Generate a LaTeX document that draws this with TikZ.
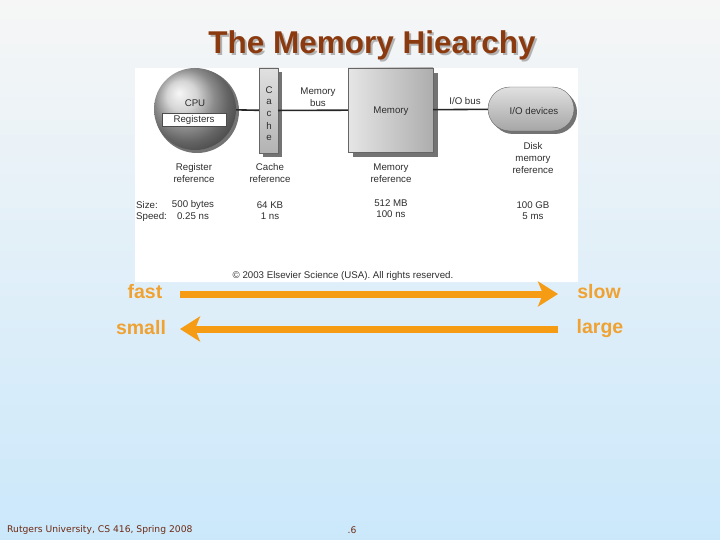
\documentclass[tikz,border=0pt]{standalone}
\usepackage{fontspec}
\setmainfont{Liberation Sans}
\newfontfamily\footfont{DejaVu Sans}
\usetikzlibrary{shapes.misc}
\usetikzlibrary{arrows.meta}
\definecolor{titlebrown}{HTML}{8B3A0F}
\definecolor{arroworange}{HTML}{F59B14}
\definecolor{labelorange}{HTML}{EFA232}
\definecolor{bgtop}{HTML}{F6F6F6}
\definecolor{bgbottom}{HTML}{CBE8FB}
\definecolor{figtext}{HTML}{2E2E2E}
\definecolor{footbrown}{HTML}{6E2A12}

\begin{document}
\begin{tikzpicture}[x=1pt,y=-1pt]
\tikzset{every node/.style={inner sep=0pt}}
\tikzset{figtext/.style={text=figtext,font=\fontsize{9.7}{12}\selectfont,align=center}}
\tikzset{bus/.style={line width=1.6pt,black!85}}
\tikzset{hier/.style={line width=7pt,arroworange,-{Stealth[length=20pt,width=25pt,inset=5pt]}}}
\tikzset{hiertext/.style={text=labelorange,font=\fontsize{19.5}{22}\selectfont\bfseries}}
\tikzset{boxshadow/.style={fill=black!55,draw=none}}
\useasboundingbox (0,0) rectangle (720,540);
\shade[top color=bgtop,bottom color=bgbottom] (0,0) rectangle (720,540);

% title
\node (title) at (372,46) [text=titlebrown,font=\fontsize{31.5}{34}\selectfont\bfseries]
  {\rlap{\hspace{2pt}\raisebox{-2pt}{\color{black!30}The Memory Hiearchy}}The Memory Hiearchy};

% figure panel
\fill[white] (135,68) rectangle (578,282);
\fill[boxshadow] (197,111) circle (42);
\shade[ball color=black!22] (195,109) circle (41);
\node (cpu) at (195,109) [circle,minimum size=82pt] {};
\node (cputext) at (195,103) [figtext] {CPU};
\node (registers) at (194,119.5) [figtext,draw=black!70,fill=white,minimum width=64pt,minimum height=13pt] {Registers};
\fill[boxshadow] (263,72) rectangle (282,157);
\node (cache) at (268.5,110.5) [draw=black!60,top color=black!12,bottom color=black!30,minimum width=19pt,minimum height=85pt] {};
\foreach \l [count=\i] in {C,a,c,h,e}
  \node (cache\i) at (269,78+12*\i) [figtext] {\l};
\fill[boxshadow] (353,73) rectangle (438,157);
\node (memory) at (390.5,110) [draw=black!60,left color=black!10,right color=black!32,minimum width=85pt,minimum height=84pt] {};
\node (memorytext) at (391,111) [figtext] {Memory};
\node (ioshadow) at (534,112) [rounded rectangle,fill=black!55,minimum width=86pt,minimum height=44pt] {};
\node (io) at (531,109) [rounded rectangle,draw=black!60,top color=black!12,bottom color=black!35,minimum width=86pt,minimum height=44pt] {};
\node (iotext) at (534,111) [figtext] {I/O devices};

\path
(cpu) edge [bus] (cache)
(cache) edge [bus] (memory)
(memory) edge [bus] (io);

\node (membus) at (318,97.5) [figtext] {Memory\\bus};
\node (iobus) at (465,101) [figtext] {I/O bus};

\node (regref) at (194,173.5) [figtext] {Register\\reference};
\node (cacheref) at (270,173.5) [figtext] {Cache\\reference};
\node (memref) at (391,173.5) [figtext] {Memory\\reference};
\node (diskref) at (533,158) [figtext] {Disk\\memory\\reference};

\node (sizelab) at (136,205) [figtext,anchor=west] {Size:};
\node (speedlab) at (136,216.5) [figtext,anchor=west] {Speed:};
\node (regsize) at (193,205) [figtext] {500 bytes};
\node (regspeed) at (193,216.5) [figtext] {0.25 ns};
\node (cachesize) at (270,205) [figtext] {64 KB};
\node (cachespeed) at (270,216.5) [figtext] {1 ns};
\node (memsize) at (391,203) [figtext] {512 MB};
\node (memspeed) at (391,214.5) [figtext] {100 ns};
\node (disksize) at (533,205) [figtext] {100 GB};
\node (diskspeed) at (533,216.5) [figtext] {5 ms};
\node (copyright) at (343,276) [figtext,font=\fontsize{9.7}{11}\selectfont] {\textcopyright\ 2003 Elsevier Science (USA). All rights reserved.};

% speed and size arrows
\node (fast) at (145,292) [hiertext] {fast};
\node (slow) at (599,292) [hiertext] {slow};
\node (small) at (141,327.5) [hiertext] {small};
\node (large) at (600,328) [hiertext] {large};
\coordinate (fastend) at (180,294);
\coordinate (slowend) at (558,294);
\coordinate (smallend) at (180,329);
\coordinate (largeend) at (558,329);
\draw[hier] (fastend) -- (slowend);
\draw[hier] (largeend) -- (smallend);

% footer
\node (footer) at (7,530) [anchor=west,text=footbrown,font=\footfont\fontsize{9.2}{11}\selectfont] {Rutgers University, CS 416, Spring 2008};
\node (pagenum) at (352,530) [text=footbrown,font=\footfont\fontsize{9.2}{11}\selectfont] {.6};
\end{tikzpicture}
\end{document}
